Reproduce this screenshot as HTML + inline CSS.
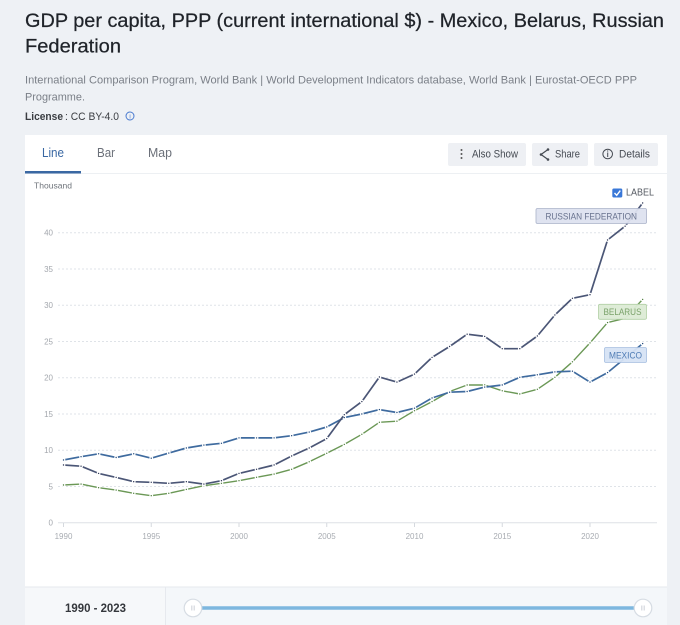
<!DOCTYPE html>
<html>
<head>
<meta charset="utf-8">
<style>
html,body{margin:0;padding:0;background:#eef1f5;}
svg{display:block;font-family:"Liberation Sans",Arial,sans-serif;}
</style>
</head>
<body>
<svg width="680" height="625" viewBox="0 0 680 625" xmlns="http://www.w3.org/2000/svg">
<defs>
<marker id="mM" markerWidth="6" markerHeight="6" refX="3" refY="3" markerUnits="userSpaceOnUse"><circle cx="3" cy="3" r="1.3" fill="#23497a" stroke="#fff" stroke-width="1.2"/></marker>
<marker id="mR" markerWidth="6" markerHeight="6" refX="3" refY="3" markerUnits="userSpaceOnUse"><circle cx="3" cy="3" r="1.3" fill="#2c3554" stroke="#fff" stroke-width="1.2"/></marker>
<marker id="mB" markerWidth="6" markerHeight="6" refX="3" refY="3" markerUnits="userSpaceOnUse"><circle cx="3" cy="3" r="1.3" fill="#4c7a3a" stroke="#fff" stroke-width="1.2"/></marker>
</defs>

<rect x="0" y="0" width="680" height="625" fill="#eef1f5"/>

<!-- Title -->
<text x="25" y="27" font-size="19.8" fill="#1f2329" stroke="#1f2329" stroke-width="0.25" textLength="639" lengthAdjust="spacingAndGlyphs">GDP per capita, PPP (current international $) - Mexico, Belarus, Russian</text>
<text x="25" y="52.3" font-size="19.8" fill="#1f2329" stroke="#1f2329" stroke-width="0.25" textLength="96" lengthAdjust="spacingAndGlyphs">Federation</text>

<text x="25" y="83.5" font-size="11" fill="#7a7f87" textLength="612" lengthAdjust="spacingAndGlyphs">International Comparison Program, World Bank | World Development Indicators database, World Bank | Eurostat-OECD PPP</text>
<text x="25" y="100.7" font-size="11" fill="#7a7f87" textLength="60" lengthAdjust="spacingAndGlyphs">Programme.</text>
<text x="25" y="120" font-size="11" font-weight="bold" fill="#3a3d42" textLength="38" lengthAdjust="spacingAndGlyphs">License</text>
<text x="65" y="120" font-size="11" fill="#3a3d42" textLength="54" lengthAdjust="spacingAndGlyphs">: CC BY-4.0</text>
<circle cx="130" cy="116" r="4" fill="none" stroke="#4a7bd0" stroke-width="1"/>
<text x="130" y="118.5" font-size="6" fill="#4a7bd0" text-anchor="middle">i</text>

<!-- Card -->
<rect x="25" y="135" width="642" height="500" fill="#ffffff"/>
<line x1="25" y1="173.5" x2="667" y2="173.5" stroke="#edf0f3" stroke-width="1"/>
<text x="42" y="157" font-size="12.5" fill="#3a68a3" textLength="22" lengthAdjust="spacingAndGlyphs">Line</text>
<text x="97" y="157" font-size="12.5" fill="#6b7079" textLength="18" lengthAdjust="spacingAndGlyphs">Bar</text>
<text x="148" y="157" font-size="12.5" fill="#6b7079" textLength="24" lengthAdjust="spacingAndGlyphs">Map</text>
<rect x="25" y="171" width="56" height="2.5" fill="#3a68a3"/>

<!-- Buttons -->
<rect x="448" y="143" width="78" height="23" rx="2" fill="#eef0f4"/>
<circle cx="461.5" cy="150" r="1" fill="#555"/>
<circle cx="461.5" cy="154" r="1" fill="#555"/>
<circle cx="461.5" cy="158" r="1" fill="#555"/>
<text x="472" y="157.5" font-size="11" fill="#454a52" textLength="46" lengthAdjust="spacingAndGlyphs">Also Show</text>

<rect x="532" y="143" width="56" height="23" rx="2" fill="#eef0f4"/>
<polyline points="548,149.5 541,154.5 548,159.5" fill="none" stroke="#454a52" stroke-width="1.2"/>
<circle cx="548" cy="149.5" r="1.3" fill="#454a52"/>
<circle cx="541" cy="154.5" r="1.3" fill="#454a52"/>
<circle cx="548" cy="159.5" r="1.3" fill="#454a52"/>
<text x="555" y="157.5" font-size="11" fill="#454a52" textLength="25" lengthAdjust="spacingAndGlyphs">Share</text>

<rect x="594" y="143" width="64" height="23" rx="2" fill="#eef0f4"/>
<circle cx="607.7" cy="154" r="4.8" fill="none" stroke="#454a52" stroke-width="1"/>
<line x1="607.7" y1="152.5" x2="607.7" y2="157" stroke="#454a52" stroke-width="1"/>
<circle cx="607.7" cy="151" r="0.6" fill="#454a52"/>
<text x="619" y="157.5" font-size="11" fill="#454a52" textLength="31" lengthAdjust="spacingAndGlyphs">Details</text>

<!-- Chart -->
<text x="34" y="188.5" font-size="8.5" fill="#6f747b" textLength="38" lengthAdjust="spacingAndGlyphs">Thousand</text>

<!-- checkbox -->
<rect x="612.3" y="188.5" width="10" height="9" rx="1.5" fill="#3a78d8"/>
<polyline points="614.5,193 616.7,195.3 620.3,190.6" fill="none" stroke="#fff" stroke-width="1.4"/>
<text x="626" y="195.5" font-size="10" fill="#555a62" textLength="28" lengthAdjust="spacingAndGlyphs">LABEL</text>

<g stroke="#dfe3e8" stroke-width="1" stroke-dasharray="2,2">
<line x1="58" y1="486.45" x2="657" y2="486.45"/>
<line x1="58" y1="450.2" x2="657" y2="450.2"/>
<line x1="58" y1="413.95" x2="657" y2="413.95"/>
<line x1="58" y1="377.7" x2="657" y2="377.7"/>
<line x1="58" y1="341.45" x2="657" y2="341.45"/>
<line x1="58" y1="305.2" x2="657" y2="305.2"/>
<line x1="58" y1="268.95" x2="657" y2="268.95"/>
<line x1="58" y1="232.7" x2="657" y2="232.7"/>
</g>
<line x1="58" y1="522.7" x2="657" y2="522.7" stroke="#dde1e6" stroke-width="1"/>

<g font-size="8" fill="#a3a7ad" text-anchor="end">
<text x="53" y="525.5">0</text>
<text x="53" y="489.3">5</text>
<text x="53" y="453">10</text>
<text x="53" y="416.8">15</text>
<text x="53" y="380.5">20</text>
<text x="53" y="344.3">25</text>
<text x="53" y="308">30</text>
<text x="53" y="271.8">35</text>
<text x="53" y="235.5">40</text>
</g>

<g stroke="#d5d9de" stroke-width="1">
<line x1="63.5" y1="523" x2="63.5" y2="527"/>
<line x1="151.25" y1="523" x2="151.25" y2="527"/>
<line x1="239" y1="523" x2="239" y2="527"/>
<line x1="326.75" y1="523" x2="326.75" y2="527"/>
<line x1="414.5" y1="523" x2="414.5" y2="527"/>
<line x1="502.25" y1="523" x2="502.25" y2="527"/>
<line x1="590" y1="523" x2="590" y2="527"/>
</g>
<g font-size="8" fill="#a8acb2" text-anchor="middle">
<text x="63.5" y="539">1990</text>
<text x="151.25" y="539">1995</text>
<text x="239" y="539">2000</text>
<text x="326.75" y="539">2005</text>
<text x="414.5" y="539">2010</text>
<text x="502.25" y="539">2015</text>
<text x="590" y="539">2020</text>
</g>

<!-- Belarus -->
<polyline fill="none" stroke="#6b9856" stroke-width="1.4" stroke-linejoin="round" marker-start="url(#mB)" marker-mid="url(#mB)" marker-end="url(#mB)"
points="63.5,485.0 81.05,484.1 98.6,487.7 116.15,490.1 133.7,493.3 151.25,495.7 168.8,493.3 186.35,489.4 203.9,485.7 221.45,483.3 239.0,480.7 256.55,477.3 274.1,474.1 291.65,469.3 309.2,461.8 326.75,453.3 344.3,444.4 361.85,434.3 379.4,422.3 396.95,421.2 414.5,410.7 432.05,401.6 449.6,391.5 467.15,385.0 484.7,385.0 502.25,390.8 519.8,394.0 537.35,389.3 554.9,377.3 572.45,361.8 590.0,342.9 607.55,322.6 625.1,318.3 642.65,299.4"/>

<!-- Mexico -->
<polyline fill="none" stroke="#3f6b9f" stroke-width="1.7" stroke-linejoin="round" marker-start="url(#mM)" marker-mid="url(#mM)" marker-end="url(#mM)"
points="63.5,460.0 81.05,456.7 98.6,453.8 116.15,457.5 133.7,453.8 151.25,458.2 168.8,453.1 186.35,448.0 203.9,445.1 221.45,443.3 239.0,437.9 256.55,437.9 274.1,437.9 291.65,435.7 309.2,432.1 326.75,427.0 344.3,417.6 361.85,414.0 379.4,409.6 396.95,412.5 414.5,408.2 432.05,398.0 449.6,392.2 467.15,391.5 484.7,387.1 502.25,385.0 519.8,377.3 537.35,374.8 554.9,371.9 572.45,371.2 590.0,382.1 607.55,372.6 625.1,358.1 642.65,343.6"/>

<!-- Russia -->
<polyline fill="none" stroke="#4b5676" stroke-width="1.7" stroke-linejoin="round" marker-start="url(#mR)" marker-mid="url(#mR)" marker-end="url(#mR)"
points="63.5,465.0 81.05,466.2 98.6,473.4 116.15,477.4 133.7,481.7 151.25,482.3 168.8,483.3 186.35,481.7 203.9,484.1 221.45,480.7 239.0,473.4 256.55,469.3 274.1,465.0 291.65,456.0 309.2,448.0 326.75,438.6 344.3,414.7 361.85,401.6 379.4,377.0 396.95,382.1 414.5,374.1 432.05,357.4 449.6,346.5 467.15,334.2 484.7,336.4 502.25,348.7 519.8,348.7 537.35,336.0 554.9,315.0 572.45,298.3 590.0,294.7 607.55,240.0 625.1,226.2 642.65,203.0"/>

<!-- Series labels -->
<rect x="536" y="208.5" width="110.5" height="15" rx="1.5" fill="#dde2ef" fill-opacity="0.95" stroke="#aab2c9" stroke-width="0.8"/>
<text x="591.2" y="219.3" font-size="8.8" fill="#68728e" text-anchor="middle" textLength="91.5" lengthAdjust="spacingAndGlyphs">RUSSIAN FEDERATION</text>

<rect x="598.5" y="304.3" width="48" height="15" rx="1.5" fill="#dcebd5" fill-opacity="0.95" stroke="#b2d0a6" stroke-width="0.8"/>
<text x="622.5" y="315" font-size="8.8" fill="#7aa26a" text-anchor="middle" textLength="38" lengthAdjust="spacingAndGlyphs">BELARUS</text>

<rect x="604.5" y="347.5" width="42" height="15" rx="1.5" fill="#d6e3f4" fill-opacity="0.95" stroke="#a6bfe0" stroke-width="0.8"/>
<text x="625.5" y="358.3" font-size="8.8" fill="#4f7cb5" text-anchor="middle" textLength="33" lengthAdjust="spacingAndGlyphs">MEXICO</text>

<!-- Footer -->
<rect x="25" y="587" width="642" height="38" fill="#f4f7fa"/>
<rect x="25" y="587" width="140.5" height="38" fill="#f6f8fa"/>
<line x1="25" y1="587" x2="667" y2="587" stroke="#e6e9ee" stroke-width="1"/>
<line x1="165.5" y1="587" x2="165.5" y2="625" stroke="#e6e9ee" stroke-width="1"/>
<text x="95.5" y="612" font-size="12" font-weight="bold" fill="#34373c" text-anchor="middle" textLength="61" lengthAdjust="spacingAndGlyphs">1990 - 2023</text>

<line x1="193" y1="608" x2="643" y2="608" stroke="#7db7df" stroke-width="3.5"/>
<circle cx="193" cy="608" r="8.8" fill="#ffffff" stroke="#d6dce3" stroke-width="1.2"/>
<g stroke="#cdd2d9" stroke-width="0.7">
<line x1="191.5" y1="605.5" x2="191.5" y2="610.5"/><line x1="193" y1="605.5" x2="193" y2="610.5"/><line x1="194.5" y1="605.5" x2="194.5" y2="610.5"/>
</g>
<circle cx="643" cy="608" r="8.8" fill="#ffffff" stroke="#d6dce3" stroke-width="1.2"/>
<g stroke="#cdd2d9" stroke-width="0.7">
<line x1="641.5" y1="605.5" x2="641.5" y2="610.5"/><line x1="643" y1="605.5" x2="643" y2="610.5"/><line x1="644.5" y1="605.5" x2="644.5" y2="610.5"/>
</g>
</svg>
</body>
</html>
